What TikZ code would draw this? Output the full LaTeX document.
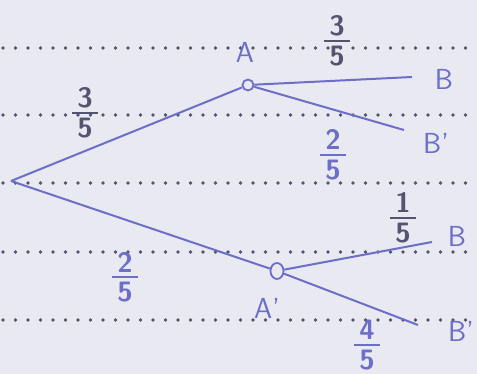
\documentclass[tikz,border=0pt]{standalone}
\usetikzlibrary{shapes.geometric}
\definecolor{paper}{RGB}{233,233,241}
\definecolor{ink}{RGB}{108,110,200}
\definecolor{pencil}{RGB}{82,84,112}
\definecolor{dotc}{RGB}{80,84,110}
\newcommand\hfr[2]{#1\\\rule[5.7pt]{0.9em}{1.9pt}\\[-3pt]#2}
\tikzset{
  dotrow/.style={dotc, line width=3.6pt, line cap=round, dash pattern=on 0pt off 12.5pt},
  branch/.style={ink, line width=2pt},
  junc/.style={circle, draw=ink, line width=1.8pt, minimum size=11pt, inner sep=0pt},
  lbl/.style={ink, font=\fontsize{29}{32}\selectfont\sffamily},
  fracg/.style={pencil, align=center, inner sep=0pt, font=\fontsize{28}{12}\selectfont\sffamily\bfseries},
  fracb/.style={ink, align=center, inner sep=0pt, font=\fontsize{28}{12}\selectfont\sffamily\bfseries}
}
\begin{document}
\begin{tikzpicture}[x=1pt,y=-1pt]
\fill[paper] (0,0) rectangle (477,374);
\useasboundingbox (0,0) rectangle (477,374);
\foreach \yy in {48,115,183,252,320} \draw[dotrow] (3,\yy) -- (477,\yy);
% nodes
\coordinate (o) at (11,181);
\node[junc] (a) at (248,85) {};
\node[ellipse, draw=ink, line width=1.8pt, inner sep=0pt, minimum width=13pt, minimum height=16pt] (a2) at (277,271) {};
\coordinate (ab) at (412,77);
\coordinate (abb) at (404,130);
\coordinate (a2b) at (432,242);
\coordinate (a2bb) at (418,325);
% connectors
\draw[branch] (o) -- (a);
\draw[branch] (o) -- (a2);
\draw[branch] (a) -- (ab);
\draw[branch] (a) -- (abb);
\draw[branch] (a2) -- (a2b);
\draw[branch] (a2) -- (a2bb);
% letters
\node[lbl] (la) at (245,52) {A};
\node[lbl] (lb) at (444,79) {B};
\node[lbl] (lbb) at (436,143) {B'};
\node[lbl] (la2) at (267,308) {A'};
\node[lbl] (lb2) at (457,236) {B};
\node[lbl] (lbb2) at (461,331) {B'};
% fractions
\node[fracg] (f1) at (85,113) {\hfr{3}{5}};
\node[fracg] (f2) at (337,41) {\hfr{3}{5}};
\node[fracb] (f3) at (333,155) {\hfr{2}{5}};
\node[fracb] (f4) at (125,277) {\hfr{2}{5}};
\node[fracg] (f5) at (403,218) {\hfr{1}{5}};
\node[fracb] (f6) at (367,345) {\hfr{4}{5}};
\end{tikzpicture}
\end{document}
